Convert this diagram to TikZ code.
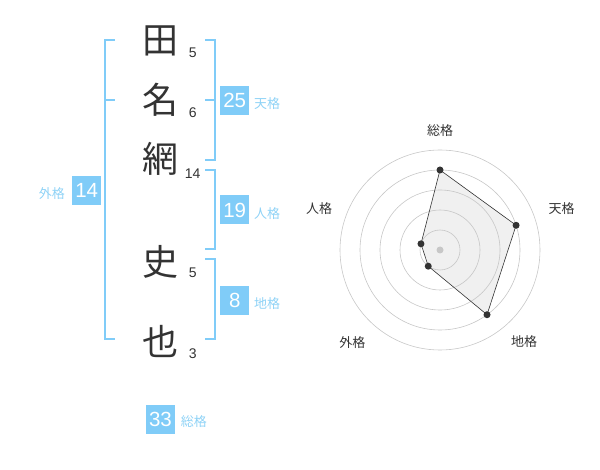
\documentclass[tikz,border=0pt]{standalone}
\usepackage{fontspec}
\setmainfont{Liberation Sans}
\newfontfamily\jpfont{Noto Sans CJK JP}
\usepackage{xcolor}
\usepackage{tikz}
\usetikzlibrary{calc}
\usetikzlibrary{positioning}
\definecolor{kakublue}{HTML}{80CCF8}
\definecolor{kakutext}{HTML}{8ED2F6}
\definecolor{inkgray}{HTML}{333333}

\begin{document}
\begin{tikzpicture}[x=1pt, y=-1pt, thick,
	kanji/.style={font=\jpfont\fontsize{36}{36}\selectfont, text=inkgray, inner sep=0pt},
	strokes/.style={font=\fontsize{14}{14}\selectfont, text=inkgray, inner sep=0pt},
	score/.style={rectangle, fill=kakublue, text=white, font=\fontsize{20.5}{20.5}\selectfont, minimum width=29pt, minimum height=29pt, inner sep=0pt},
	kaku/.style={font=\jpfont\fontsize{13}{13}\selectfont, text=kakutext, inner sep=0pt},
	brk/.style={draw=kakublue, line width=1.6pt},
	ring/.style={draw=black!22, line width=0.6pt},
	axislbl/.style={font=\jpfont\fontsize{13}{13}\selectfont, text=inkgray, inner sep=0pt},
	dot/.style={circle, fill=inkgray, inner sep=0pt, minimum size=7pt},
]
\useasboundingbox (0,0) rectangle (600,470);
% name
\node [kanji] (k1) at (160,41)    {田};
\node [kanji] (k2) at (160,100)   {名};
\node [kanji] (k3) at (160,159)   {網};
\node [kanji] (k4) at (160,262)   {史};
\node [kanji] (k5) at (160,341.7) {也};
\node [strokes] (n1) at (192.7,52.3)  {5};
\node [strokes] (n2) at (192.7,112.7) {6};
\node [strokes] (n3) at (192.7,173.3) {14};
\node [strokes] (n4) at (192.7,272.7) {5};
\node [strokes] (n5) at (192.7,353.3) {3};
%
\node [score] (ten)  at (234.7,100.5) {25};
\node [score] (jin)  at (234.7,210)   {19};
\node [score] (chi)  at (234.7,300.3) {8};
\node [score] (gai)  at (86.7,190.5)  {14};
\node [score] (sou)  at (160.5,419.3) {33};
\node [kaku] [right=4pt of ten, yshift=-3.5pt] {天格};
\node [kaku] [right=4pt of jin, yshift=-4pt]   {人格};
\node [kaku] [right=4pt of chi, yshift=-3.7pt] {地格};
\node [kaku] [left=6.5pt of gai, yshift=-3pt]  {外格};
\node [kaku] [right=5pt of sou, yshift=-2.7pt] {総格};
% brackets
\draw [brk] (115,40) -- (105,40) -- (105,339.3) -- (115,339.3);
\draw [brk] (105,100) -- (115,100);
\draw [brk] (205,40) -- (214.7,40) -- (214.7,160) -- (205,160);
\draw [brk] (214.7,100) -- (205,100);
\draw [brk] (205,170) -- (214.7,170) -- (214.7,249.3) -- (205,249.3);
\draw [brk] (205,259.3) -- (214.7,259.3) -- (214.7,339.3) -- (205,339.3);
% radar
\coordinate (c) at (440,250);
\coordinate (p1) at ($(c)+(-90:80)$);
\coordinate (p2) at ($(c)+(-18:80)$);
\coordinate (p3) at ($(c)+(54:80)$);
\coordinate (p4) at ($(c)+(126:20)$);
\coordinate (p5) at ($(c)+(-162:20)$);
\fill [black!6] (p1) -- (p2) -- (p3) -- (p4) -- (p5) -- cycle;
\foreach \r in {20,40,...,100}
	\draw [ring] (c) circle [radius=\r];
\draw [inkgray, line width=0.6pt] (p1) -- (p2) -- (p3) -- (p4) -- (p5) -- cycle;
\foreach \p in {p1,p2,p3,p4,p5}
	\node [dot] at (\p) {};
\node [dot, fill=black!22] at (c) {};
%
\node [axislbl] (a1) at (440,130.7) {総格};
\node [axislbl] (a2) at (561.7,209) {天格};
\node [axislbl] (a3) at (524,341.7) {地格};
\node [axislbl] (a4) at (352.3,342.3) {外格};
\node [axislbl] (a5) at (319,209) {人格};
\end{tikzpicture}
\end{document}
